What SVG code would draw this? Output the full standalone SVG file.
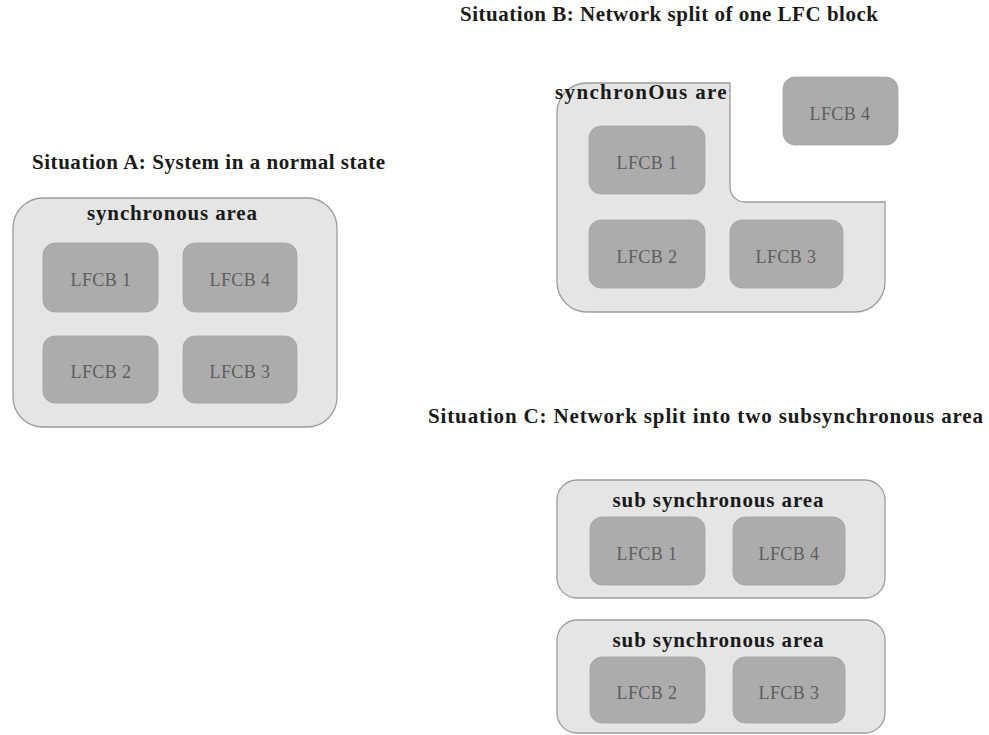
<svg xmlns="http://www.w3.org/2000/svg" width="989" height="735" viewBox="0 0 989 735">
  <defs>
    <style>
      .title { font-family: "Liberation Serif", "Times New Roman", serif; font-weight: bold; font-size: 21px; fill: #1a1a1a; }
      .area { fill: #e5e5e5; stroke: #9c9c9c; stroke-width: 1.3; }
      .area-label { font-family: "Liberation Serif", "Times New Roman", serif; font-weight: bold; font-size: 21px; fill: #1a1a1a; text-anchor: middle; }
      .block { fill: #acacac; stroke: #a2a2a2; stroke-width: 0.8; }
      .block-label { font-family: "Liberation Serif", "Times New Roman", serif; font-size: 18px; fill: #5e5e5e; text-anchor: middle; letter-spacing: 0.4px; }
    </style>
    <clipPath id="clipB">
      <rect x="540" y="80" width="190" height="40"/>
    </clipPath>
  </defs>

  <rect width="989" height="735" fill="#ffffff"/>

  <!-- Situation A: one synchronous area with four LFC blocks -->
  <g id="situation-a">
    <text class="title" x="32" y="169" textLength="353" lengthAdjust="spacing">Situation A: System in a normal state</text>
    <g id="a-area">
      <rect class="area" x="13" y="198" width="324" height="229" rx="30"/>
      <text class="area-label" x="172" y="220" textLength="170" lengthAdjust="spacing">synchronous area</text>
    </g>
    <g id="a-lfcb1">
      <rect class="block" x="43" y="243" width="115" height="69" rx="12"/>
      <text class="block-label" x="101" y="286">LFCB 1</text>
    </g>
    <g id="a-lfcb4">
      <rect class="block" x="183" y="243" width="114" height="69" rx="12"/>
      <text class="block-label" x="240" y="286">LFCB 4</text>
    </g>
    <g id="a-lfcb2">
      <rect class="block" x="43" y="336" width="115" height="67" rx="12"/>
      <text class="block-label" x="101" y="378">LFCB 2</text>
    </g>
    <g id="a-lfcb3">
      <rect class="block" x="183" y="336" width="114" height="67" rx="12"/>
      <text class="block-label" x="240" y="378">LFCB 3</text>
    </g>
  </g>

  <!-- Situation B: LFCB 4 split off from the synchronous area -->
  <g id="situation-b">
    <text class="title" x="460" y="21" textLength="418" lengthAdjust="spacing">Situation B: Network split of one LFC block</text>
    <g id="b-area">
      <path class="area" d="M587,83 L730,83 L730,187 A15,15 0 0 0 745,202 L885,202 L885,282 A30,30 0 0 1 855,312 L587,312 A30,30 0 0 1 557,282 L557,113 A30,30 0 0 1 587,83 Z"/>
      <text class="area-label" x="555" y="99" textLength="180" lengthAdjust="spacing" style="text-anchor:start" clip-path="url(#clipB)">synchronOus are:</text>
    </g>
    <g id="b-lfcb4">
      <rect class="block" x="783" y="77" width="115" height="68" rx="12"/>
      <text class="block-label" x="840" y="120">LFCB 4</text>
    </g>
    <g id="b-lfcb1">
      <rect class="block" x="589" y="126" width="116" height="68" rx="12"/>
      <text class="block-label" x="647" y="169">LFCB 1</text>
    </g>
    <g id="b-lfcb2">
      <rect class="block" x="589" y="220" width="116" height="68" rx="12"/>
      <text class="block-label" x="647" y="263">LFCB 2</text>
    </g>
    <g id="b-lfcb3">
      <rect class="block" x="730" y="220" width="113" height="68" rx="12"/>
      <text class="block-label" x="786" y="263">LFCB 3</text>
    </g>
  </g>

  <!-- Situation C: two sub synchronous areas -->
  <g id="situation-c">
    <text class="title" x="428" y="423" textLength="555" lengthAdjust="spacing">Situation C: Network split into two subsynchronous area</text>
    <g id="c-area-top">
      <rect class="area" x="557" y="480" width="328" height="118" rx="20"/>
      <text class="area-label" x="718" y="507" textLength="211" lengthAdjust="spacing">sub synchronous area</text>
    </g>
    <g id="c-lfcb1">
      <rect class="block" x="590" y="517" width="115" height="68" rx="12"/>
      <text class="block-label" x="647" y="560">LFCB 1</text>
    </g>
    <g id="c-lfcb4">
      <rect class="block" x="733" y="517" width="112" height="68" rx="12"/>
      <text class="block-label" x="789" y="560">LFCB 4</text>
    </g>
    <g id="c-area-bottom">
      <rect class="area" x="557" y="620" width="328" height="113" rx="20"/>
      <text class="area-label" x="718" y="647" textLength="211" lengthAdjust="spacing">sub synchronous area</text>
    </g>
    <g id="c-lfcb2">
      <rect class="block" x="590" y="657" width="115" height="66" rx="12"/>
      <text class="block-label" x="647" y="699">LFCB 2</text>
    </g>
    <g id="c-lfcb3">
      <rect class="block" x="733" y="657" width="112" height="66" rx="12"/>
      <text class="block-label" x="789" y="699">LFCB 3</text>
    </g>
  </g>

  <!-- no connectors in this figure -->
  <g id="connectors"/>
</svg>
